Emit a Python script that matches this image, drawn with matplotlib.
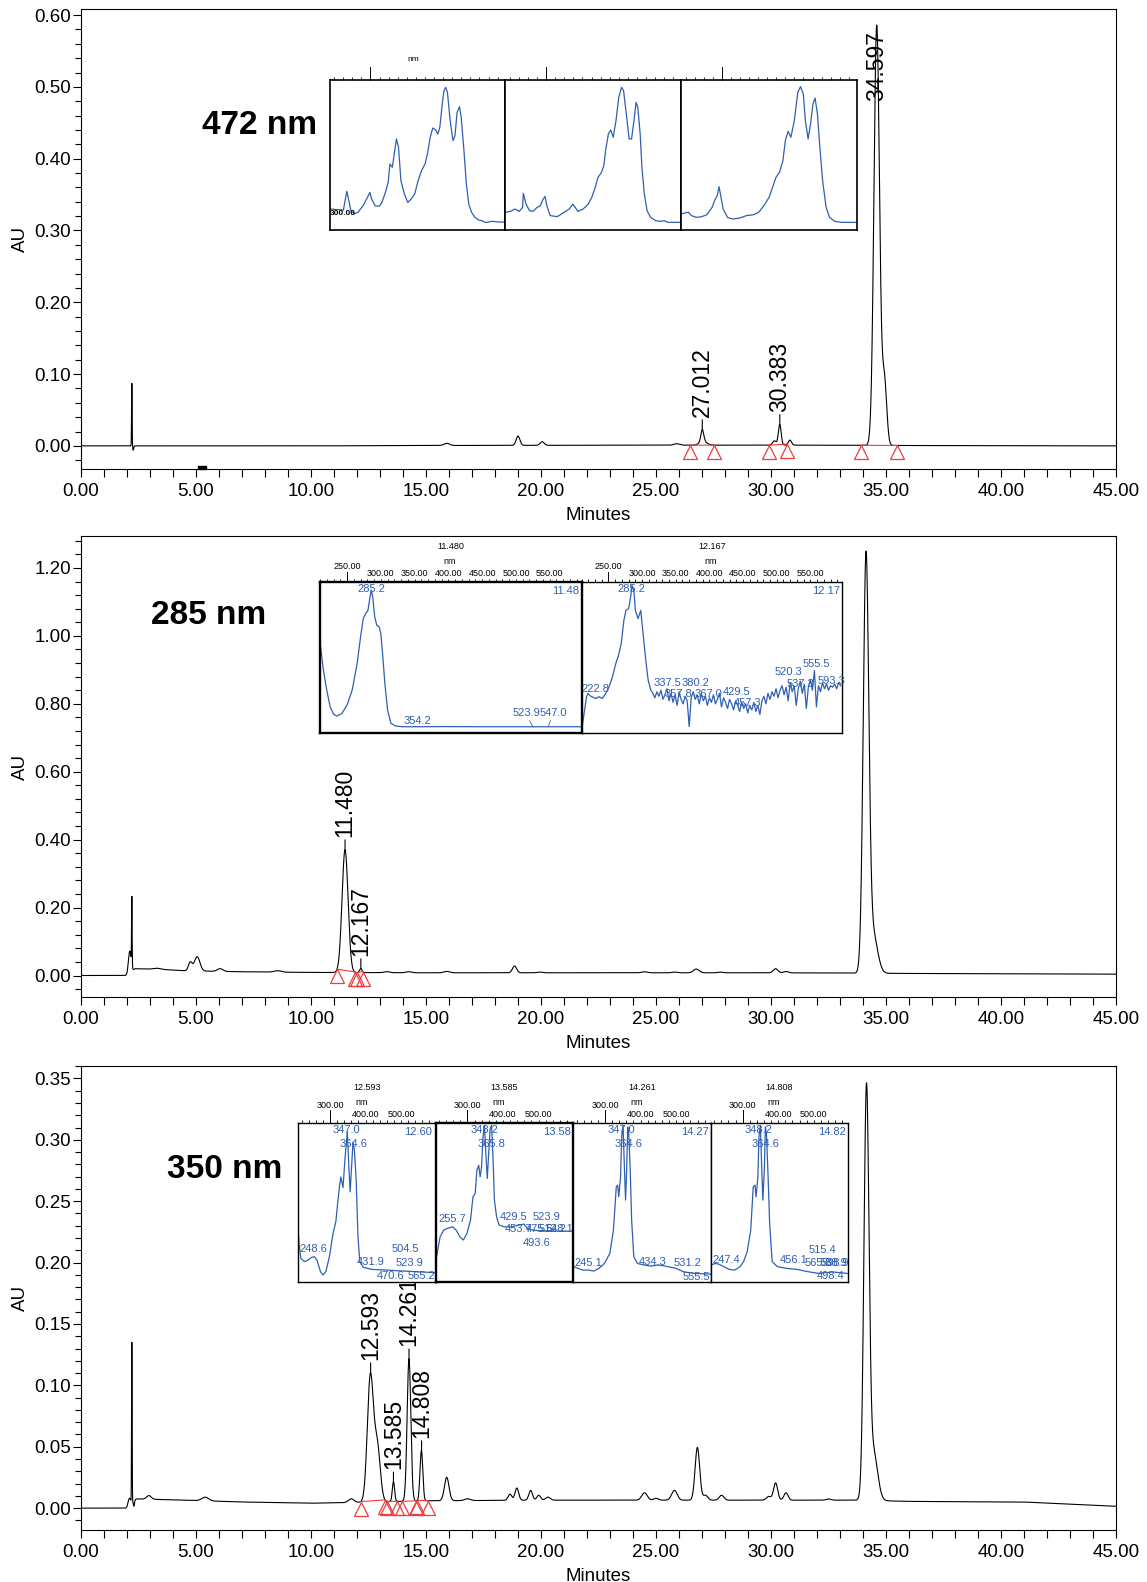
import numpy as np
import matplotlib
matplotlib.use('Agg')
import matplotlib.pyplot as plt
from matplotlib.ticker import MultipleLocator, FuncFormatter
from matplotlib.transforms import offset_copy, blended_transform_factory
from matplotlib.patches import Rectangle

plt.rcParams['font.family'] = ['Liberation Sans', 'DejaVu Sans']

W, H = 1147, 1582
BLUE = '#2f5fb3'
RED = '#ee3b3b'

# ---------------- chromatogram data ----------------
# 472 nm
p1_base_t = [0, 2.15, 2.5, 10, 15, 25, 33, 36, 45]
p1_base_y = [0.0, 0.0, 0.0, 0.0, 0.0005, 0.001, 0.001, 0.0005, 0.0]
p1_rt = [2.21, 2.27, 15.9, 19.0, 20.05, 25.9, 27.05, 27.01, 30.15, 30.38, 30.82, 34.597, 34.93]
p1_h = [0.087, -0.006, 0.003, 0.013, 0.005, 0.002, 0.006, 0.016, 0.006, 0.029, 0.007, 0.585, 0.09]
p1_w = [0.012, 0.02, 0.12, 0.08, 0.09, 0.12, 0.15, 0.06, 0.08, 0.06, 0.07, 0.12, 0.10]
p1_labels = ['27.012', '30.383', '34.597']
p1_label_rt = [27.012, 30.383, 34.597]
p1_integration = [(26.49, 27.53), (29.90, 30.70), (33.90, 35.46)]
p1_event = (5.1, 5.45)

# 285 nm
p2_base_t = [0, 2.0, 2.35, 3.5, 4.5, 7, 10, 15, 20, 30, 33.8, 36, 45]
p2_base_y = [0, 0, 0.02, 0.018, 0.014, 0.011, 0.009, 0.008, 0.008, 0.008, 0.007, 0.006, 0.004]
p2_rt = [2.12, 2.21, 3.3, 4.75, 5.05, 6.05, 8.55, 11.48, 12.167, 13.3, 14.25, 15.9, 18.85,
         19.95, 24.5, 25.8, 26.75, 27.8, 30.2, 30.65, 34.13, 34.42]
p2_h = [0.065, 0.2, 0.003, 0.025, 0.042, 0.008, 0.004, 0.362, 0.012, 0.003, 0.003, 0.004, 0.02,
        0.002, 0.003, 0.002, 0.011, 0.002, 0.012, 0.004, 1.2, 0.12]
p2_w = [0.06, 0.012, 0.15, 0.08, 0.12, 0.12, 0.15, 0.13, 0.05, 0.12, 0.12, 0.12, 0.09,
        0.1, 0.12, 0.1, 0.12, 0.1, 0.1, 0.1, 0.12, 0.2]
p2_labels = ['11.480', '12.167']
p2_label_rt = [11.480, 12.167]
p2_integration = [(11.13, 11.90), (11.98, 12.25)]

# 350 nm
p3_base_t = [0, 2.0, 2.4, 4, 7, 10, 11.5, 15, 20, 30, 33.8, 36, 41, 45]
p3_base_y = [0, 0, 0.0075, 0.0068, 0.005, 0.004, 0.0045, 0.006, 0.0065, 0.0065, 0.0065, 0.0055, 0.005, 0.0015]
p3_rt = [2.1, 2.21, 2.3, 2.95, 5.4, 11.75, 12.58, 12.88, 13.585, 14.26, 14.80, 15.9, 16.8, 18.65,
         18.95, 19.55, 19.9, 20.3, 24.5, 25.0, 25.8, 26.8, 27.15, 27.85, 29.9, 30.2, 30.65, 32.5,
         34.15, 34.45]
p3_h = [0.006, 0.13, -0.004, 0.003, 0.003, 0.003, 0.102, 0.045, 0.016, 0.116, 0.041, 0.019, 0.0015,
        0.005, 0.01, 0.008, 0.004, 0.0025, 0.006, 0.0015, 0.008, 0.043, 0.004, 0.004, 0.003, 0.014,
        0.006, 0.001, 0.33, 0.04]
p3_w = [0.06, 0.012, 0.02, 0.1, 0.15, 0.12, 0.13, 0.13, 0.05, 0.08, 0.06, 0.1, 0.12, 0.08,
        0.08, 0.08, 0.08, 0.1, 0.12, 0.1, 0.12, 0.1, 0.1, 0.1, 0.1, 0.09, 0.09, 0.1, 0.11, 0.18]
p3_labels = ['12.593', '13.585', '14.261', '14.808']
p3_label_rt = [12.593, 13.585, 14.261, 14.808]
p3_integration = [(12.16, 13.22), (13.29, 13.75), (13.95, 14.55), (14.62, 15.10)]

# ---------------- inset spectra (nm, relative absorbance) ----------------
# 472 nm panel
s1a_nm = [211.5, 226.7, 240.4, 247.9, 257.0, 264.6, 272.2, 283.6, 293.5, 298.8, 302.6, 310.2, 319.3,
          325.3, 332.9, 339.0, 342.8, 348.1, 351.9, 357.2, 361.8, 367.1, 374.7, 382.2, 389.8, 397.4,
          405.0, 412.6, 420.2, 425.5, 431.6, 437.2, 443.7, 448.3, 452.8, 458.1, 461.9, 465.7, 469.5,
          475.6, 481.7, 486.2, 490.8, 496.1, 499.9, 505.9, 511.2, 516.6, 522.6, 530.2, 537.8, 545.4,
          553.0, 568.2, 583.3, 594.7]
s1a_ab = [0.140, 0.136, 0.133, 0.258, 0.129, 0.107, 0.118, 0.162, 0.218, 0.251, 0.207, 0.162, 0.158,
          0.184, 0.251, 0.318, 0.440, 0.418, 0.496, 0.607, 0.551, 0.329, 0.240, 0.184, 0.207, 0.240,
          0.329, 0.396, 0.440, 0.507, 0.618, 0.680, 0.667, 0.640, 0.684, 0.840, 0.929, 0.951, 0.918,
          0.729, 0.596, 0.629, 0.784, 0.822, 0.751, 0.529, 0.307, 0.173, 0.118, 0.084, 0.067, 0.062,
          0.050, 0.058, 0.053, 0.053]
s1b_nm = [210.0, 221.4, 231.3, 240.5, 248.1, 249.6, 255.7, 263.3, 270.9, 280.1, 287.2, 292.3, 297.6,
          301.4, 309.0, 324.3, 339.5, 350.9, 358.6, 363.9, 370.0, 381.4, 392.8, 400.5, 408.1, 414.2,
          421.8, 427.1, 430.9, 437.0, 442.3, 447.7, 453.8, 459.9, 466.0, 470.5, 476.6, 482.7, 488.1,
          493.4, 498.0, 501.8, 507.1, 510.9, 516.2, 522.3, 530.0, 541.4, 552.8, 560.4, 568.0, 583.3,
          595.5]
s1b_ab = [0.118, 0.124, 0.140, 0.124, 0.151, 0.244, 0.173, 0.129, 0.124, 0.151, 0.162, 0.200, 0.224,
          0.162, 0.096, 0.089, 0.118, 0.140, 0.173, 0.151, 0.124, 0.140, 0.173, 0.218, 0.284, 0.351,
          0.384, 0.429, 0.529, 0.640, 0.667, 0.618, 0.729, 0.884, 0.951, 0.929, 0.773, 0.607, 0.607,
          0.729, 0.851, 0.818, 0.640, 0.418, 0.240, 0.129, 0.084, 0.062, 0.058, 0.062, 0.051, 0.051,
          0.051]
s1c_nm = [211.5, 221.4, 226.8, 232.9, 244.3, 255.7, 267.1, 278.6, 284.7, 290.0, 293.8, 297.6, 302.9,
          312.8, 324.3, 339.5, 354.7, 370.0, 381.4, 392.8, 404.2, 411.9, 419.5, 427.1, 434.7, 440.1,
          446.2, 452.3, 459.9, 467.5, 473.6, 479.7, 484.2, 490.3, 495.7, 501.0, 505.6, 510.9, 516.2,
          522.3, 530.0, 537.6, 549.0, 564.2, 597.0]
s1c_ab = [0.107, 0.116, 0.118, 0.096, 0.084, 0.089, 0.102, 0.151, 0.200, 0.229, 0.289, 0.229, 0.140,
          0.084, 0.073, 0.080, 0.096, 0.102, 0.118, 0.162, 0.218, 0.284, 0.351, 0.384, 0.462, 0.596,
          0.658, 0.618, 0.729, 0.918, 0.956, 0.907, 0.729, 0.607, 0.707, 0.840, 0.880, 0.773, 0.551,
          0.329, 0.151, 0.084, 0.058, 0.051, 0.051]

# 285 nm panel
s2a_nm = [211, 215, 220, 225, 230, 235, 242.5, 250, 257.6, 265, 270, 274, 277.6, 281, 284, 286, 288,
          291, 294, 297.6, 300, 302.6, 306, 310, 315, 322.6, 332.6, 355, 395, 445, 495, 545, 595.5]
s2a_ab = [0.571, 0.418, 0.286, 0.176, 0.127, 0.114, 0.132, 0.187, 0.286, 0.462, 0.637, 0.758, 0.791,
          0.813, 0.901, 0.945, 0.901, 0.769, 0.714, 0.703, 0.659, 0.527, 0.330, 0.154, 0.066, 0.048,
          0.044, 0.044, 0.045, 0.044, 0.044, 0.044, 0.044]
s2b_nm = [211, 217.5, 219.5, 223.6, 231, 236, 241, 246, 251, 256, 261, 265, 269, 273, 276, 280, 283,
          285, 288, 290, 294, 298, 301, 305, 309, 313,
          316, 319, 322, 325, 328, 331, 334, 337, 340, 343,
          346, 349, 352, 355, 358, 361, 364, 367, 370, 373,
          376, 379, 382, 385, 388, 391, 394, 397, 400, 403,
          406, 409, 412, 415, 418, 421, 424, 427, 430, 433,
          436, 439, 442, 445, 448, 451, 454, 457, 460, 463,
          466, 469, 472, 475, 478, 481, 484, 487, 490, 493,
          496, 499, 502, 505, 508, 511, 514, 517, 520, 523,
          526, 529, 532, 535, 538, 541, 544, 547, 550, 553,
          556, 559, 562, 565, 568, 571, 574, 577, 580, 583,
          586, 589, 592, 595]
s2b_ab = [0.044, 0.242, 0.264, 0.246, 0.231, 0.242, 0.231, 0.264, 0.308, 0.374, 0.462, 0.516, 0.593,
          0.747, 0.813, 0.824, 0.901, 0.978, 0.934, 0.813, 0.758, 0.813, 0.681, 0.505, 0.352, 0.286,
          0.265, 0.235, 0.275, 0.245, 0.285, 0.225, 0.255, 0.295, 0.215, 0.265,
          0.205, 0.255, 0.185, 0.275, 0.225, 0.195, 0.245, 0.215, 0.045, 0.235,
          0.275, 0.225, 0.255, 0.195, 0.265, 0.215, 0.245, 0.185, 0.235, 0.205,
          0.255, 0.195, 0.225, 0.265, 0.175, 0.235, 0.205, 0.165, 0.225, 0.195,
          0.155, 0.215, 0.185, 0.145, 0.205, 0.165, 0.195, 0.135, 0.185, 0.155,
          0.205, 0.145, 0.185, 0.125, 0.215, 0.245, 0.195, 0.265, 0.225, 0.275,
          0.245, 0.295, 0.235, 0.285, 0.315, 0.255, 0.305, 0.215, 0.335, 0.275,
          0.315, 0.185, 0.295, 0.345, 0.265, 0.325, 0.165, 0.305, 0.355, 0.285,
          0.415, 0.175, 0.315, 0.275, 0.335, 0.295, 0.325, 0.285, 0.315, 0.305,
          0.325, 0.295, 0.335, 0.315]

# 350 nm panel
s3a_nm = [210, 213, 218, 228.1, 238.1, 248.2, 256.2, 263.3, 273.3, 280.4, 288.4, 298.4, 308.5, 316.5,
          321.6, 326.6, 330.6, 336.6, 342.7, 348.7, 353.7, 356.7, 360.8, 364.8, 368.8, 373.8, 378.8,
          383.9, 393.9, 419.0, 459.2, 489.4, 539.6, 594.9]
s3a_ab = [0.347, 0.243, 0.149, 0.128, 0.138, 0.155, 0.159, 0.138, 0.065, 0.044, 0.065, 0.159, 0.305,
          0.379, 0.494, 0.598, 0.661, 0.594, 0.787, 0.944, 0.703, 0.567, 0.724, 0.881, 0.828, 0.640,
          0.285, 0.128, 0.092, 0.079, 0.075, 0.071, 0.065, 0.059]
s3b_nm = [213, 223.1, 233.1, 243.2, 258.2, 268.3, 278.3, 288.4, 298.4, 308.5, 315.5, 321.6, 326.6,
          331.6, 335.6, 339.6, 343.7, 347.7, 351.7, 355.7, 359.7, 363.8, 367.8, 371.8, 375.8, 381.9,
          388.9, 404.0, 424.1, 444.2, 459.2, 469.3, 484.4, 504.5, 524.6, 554.7, 594.9]
s3b_ab = [0.159, 0.285, 0.326, 0.337, 0.347, 0.326, 0.285, 0.264, 0.305, 0.389, 0.536, 0.556, 0.703,
          0.734, 0.661, 0.724, 0.912, 0.985, 0.808, 0.651, 0.808, 0.964, 0.985, 0.787, 0.515, 0.410,
          0.358, 0.347, 0.347, 0.358, 0.364, 0.337, 0.326, 0.322, 0.322, 0.320, 0.320]
s3c_nm = [213, 223.1, 238.1, 253.2, 268.3, 283.4, 298.4, 313.5, 323.6, 328.6, 331.6, 335.6, 338.6,
          343.7, 346.7, 350.7, 354.7, 357.7, 360.8, 363.8, 366.8, 370.8, 374.8, 380.9, 390.9, 409.0,
          429.1, 449.2, 469.3, 499.4, 519.5, 549.7, 595.9]
s3c_ab = [0.096, 0.086, 0.075, 0.075, 0.069, 0.086, 0.117, 0.180, 0.326, 0.494, 0.598, 0.609, 0.536,
          0.661, 0.912, 0.985, 0.703, 0.515, 0.703, 0.975, 0.933, 0.703, 0.389, 0.159, 0.117, 0.107,
          0.100, 0.107, 0.100, 0.086, 0.065, 0.054, 0.050]
s3d_nm = [212, 222.1, 232.1, 247.2, 262.3, 277.3, 292.4, 302.5, 312.5, 322.6, 329.6, 334.6, 337.6,
          342.7, 345.7, 349.7, 353.7, 356.7, 360.8, 363.8, 366.8, 370.8, 375.8, 382.9, 397.9, 423.1,
          453.2, 483.4, 513.5, 553.7, 593.9]
s3d_ab = [0.107, 0.117, 0.113, 0.096, 0.079, 0.075, 0.096, 0.128, 0.190, 0.326, 0.598, 0.609, 0.536,
          0.661, 0.912, 0.985, 0.703, 0.515, 0.703, 0.975, 0.933, 0.703, 0.368, 0.128, 0.096, 0.086,
          0.079, 0.065, 0.054, 0.063, 0.054]

# spectrum annotations: (text, nm, rel, ha)
lab2a = [('285.2', 285.3, 0.952, 'center'), ('11.48', 594, 0.943, 'right'), ('354.2', 354.3, 0.084, 'center'),
         ('523.9', 514.9, 0.137, 'center'), ('547.0', 555.4, 0.137, 'center')]
lab2b = [('222.8', 231.1, 0.291, 'center'), ('285.2', 284.7, 0.952, 'center'), ('12.17', 594, 0.943, 'right'),
         ('337.5', 338.2, 0.335, 'center'), ('380.2', 379.7, 0.335, 'center'), ('357.8', 354, 0.258, 'center'),
         ('367.0', 398.6, 0.258, 'center'), ('429.5', 440, 0.275, 'center'), ('457.3', 456, 0.199, 'center'),
         ('520.3', 517.4, 0.408, 'center'), ('555.5', 559.6, 0.456, 'center'), ('537.3', 534.6, 0.326, 'center'),
         ('593.3', 582, 0.348, 'center')]
lab3a = [('347.0', 346.2, 0.954, 'center'), ('364.6', 366.5, 0.866, 'center'), ('12.60', 587, 0.943, 'right'),
         ('248.6', 252, 0.205, 'center'), ('431.9', 415, 0.127, 'center'), ('504.5', 511, 0.207, 'center'),
         ('523.9', 524, 0.121, 'center'), ('470.6', 471.5, 0.038, 'center'), ('565.2', 557, 0.038, 'center')]
lab3b = [('348.2', 347.4, 0.959, 'center'), ('365.8', 366.8, 0.866, 'center'), ('13.58', 591, 0.943, 'right'),
         ('255.7', 256.5, 0.394, 'center'), ('429.5', 428.7, 0.41, 'center'), ('523.9', 523.2, 0.41, 'center'),
         ('453.7', 445, 0.331, 'center'), ('475.6', 504, 0.331, 'center'), ('512.2', 540, 0.331, 'center'),
         ('548.1', 558, 0.331, 'center'), ('493.6', 494, 0.247, 'center')]
lab3c = [('347.0', 346.2, 0.959, 'center'), ('364.6', 364.8, 0.866, 'center'), ('14.27', 591.6, 0.943, 'right'),
         ('245.1', 252, 0.121, 'center'), ('434.3', 435, 0.127, 'center'), ('531.2', 530.9, 0.121, 'center'),
         ('555.5', 556, 0.033, 'center')]
lab3d = [('348.2', 344.8, 0.959, 'center'), ('364.6', 364.8, 0.866, 'center'), ('14.82', 591, 0.943, 'right'),
         ('247.4', 253, 0.138, 'center'), ('456.1', 442.5, 0.138, 'center'), ('515.4', 525.5, 0.2, 'center'),
         ('565.3', 512, 0.121, 'center'), ('588.9', 556, 0.121, 'center'), ('598.9', 560, 0.121, 'center'),
         ('498.4', 548, 0.038, 'center')]

titles2 = ['11.480', '12.167']
titles3 = ['12.593', '13.585', '14.261', '14.808']
NM_RANGE = (210, 597)

# ---------------- helpers ----------------
fig = plt.figure(figsize=(W / 100, H / 100), dpi=100)


def rect(l, t, r, b):
    return [l / W, 1 - b / H, (r - l) / W, (b - t) / H]


t = np.linspace(0, 45, 22501)


def trace(base_t, base_y, rts, hs, ws):
    y = np.interp(t, base_t, base_y)
    for rt, h, s in zip(rts, hs, ws):
        y = y + h * np.exp(-0.5 * ((t - rt) / s) ** 2)
    return y


def fmt(v, p):
    if abs(v) < 1e-9:
        v = 0.0
    return f'{v:.2f}'


def setup_main(ax, ylim, ymaj, ymin):
    ax.set_xlim(0, 45)
    ax.set_ylim(*ylim)
    ax.xaxis.set_major_locator(MultipleLocator(5))
    ax.xaxis.set_minor_locator(MultipleLocator(1))
    ax.yaxis.set_major_locator(MultipleLocator(ymaj))
    ax.yaxis.set_minor_locator(MultipleLocator(ymin))
    ax.xaxis.set_major_formatter(FuncFormatter(fmt))
    ax.yaxis.set_major_formatter(FuncFormatter(fmt))
    ax.tick_params(axis='both', which='major', direction='out', length=6, width=0.8, labelsize=13.5)
    ax.tick_params(axis='y', which='minor', direction='out', length=4, width=0.8)
    ax.tick_params(axis='x', which='minor', direction='out', length=5.5, width=0.8)
    ax.tick_params(axis='x', which='major', pad=4)
    ax.tick_params(axis='y', which='major', pad=1)
    ax.set_xlabel('Minutes', fontsize=13.5, labelpad=5)
    ax.set_ylabel('AU', fontsize=13.5, labelpad=4)
    for s in ax.spines.values():
        s.set_linewidth(0.8)


def label_peaks(ax, y, rts, names):
    fig.canvas.draw()
    top_px = ax.transAxes.transform((0, 1))[1]
    for rt, name in zip(rts, names):
        m = (t > rt - 0.04) & (t < rt + 0.04)
        yp = y[m].max()
        ppx = ax.transData.transform((rt, yp))[1]
        if ppx + 14 + 80 > top_px:
            yc = ax.transData.inverted().transform((0, top_px - 57))[1]
            ax.text(rt, yc, name, rotation=90, ha='center', va='center', fontsize=16.5)
        else:
            ax.annotate(name, xy=(rt, yp), xytext=(0, 9), textcoords='offset points',
                        rotation=90, ha='center', va='bottom', fontsize=16.5,
                        arrowprops=dict(arrowstyle='-', lw=0.8, color='k', shrinkA=0, shrinkB=0))


def integration_marks(ax, y, pairs):
    tr = offset_copy(ax.transData, fig=fig, y=-5, units='points')
    for a, b in pairs:
        ya, yb = np.interp([a, b], t, y)
        ax.plot([a, b], [ya, yb], color=RED, lw=0.8)
        ax.plot([a, b], [ya, yb], ls='none', marker='^', ms=10, mfc='none', mec=RED, mew=0.9,
                transform=tr, clip_on=False)


def make_inset(l, t_, r, b, nm, ab, frame_lw, minor, major, long_tick, long_frac):
    ax = fig.add_axes(rect(l, t_, r, b))
    ax.set_facecolor('white')
    ax.plot(nm, ab, color=BLUE, lw=0.9)
    ax.set_xlim(*NM_RANGE)
    ax.set_ylim(0, 1)
    ax.set_yticks([])
    ax.xaxis.set_ticks_position('top')
    ax.set_xticks(major)
    ax.set_xticklabels([f'{v:.2f}' for v in major])
    ax.xaxis.set_minor_locator(MultipleLocator(minor))
    ax.tick_params(axis='x', which='both', direction='out', length=2.2, width=0.6,
                   labelsize=6.5, pad=0.5, top=True, bottom=False, labeltop=True, labelbottom=False)
    for s in ax.spines.values():
        s.set_linewidth(frame_lw)
    tr = blended_transform_factory(ax.transData, ax.transAxes)
    ax.plot([long_tick, long_tick], [1, 1 + long_frac], transform=tr, color='k', lw=0.7, clip_on=False)
    return ax, tr


def add_labels(ax, labs, fs=8):
    for txt, x, yv, ha in labs:
        ax.text(x, yv, txt, color=BLUE, fontsize=fs, ha=ha, va='center', clip_on=False)


# ---------------- panel 1 : 472 nm ----------------
ax1 = fig.add_axes(rect(81, 9, 1116, 469))
y1 = trace(p1_base_t, p1_base_y, p1_rt, p1_h, p1_w)
ax1.plot(t, y1, color='black', lw=0.8)
setup_main(ax1, (-0.0322, 0.6085), 0.1, 0.02)
ax1.add_patch(Rectangle((p1_event[0], -0.0322), p1_event[1] - p1_event[0], 0.0042, color='black',
                        clip_on=False))
integration_marks(ax1, y1, p1_integration)
label_peaks(ax1, y1, p1_label_rt, p1_labels)
fig.text(260 / W, 1 - 126 / H, '472 nm', fontsize=24, fontweight='bold', ha='center', va='center')

p1_boxes = [(329.6, 505.3), (505.3, 681.0), (681.0, 856.5)]
for i, ((l, r), nm, ab) in enumerate(zip(p1_boxes, [s1a_nm, s1b_nm, s1c_nm], [s1a_ab, s1b_ab, s1c_ab])):
    ax, tr = make_inset(l, 80, r, 230, nm, ab, 1.2, 20, [], 300, 0.085)
    if i == 0:
        ax.text(0.475, 1.138, 'nm', transform=ax.transAxes, ha='center', va='center', fontsize=6)
        ax.text(0.0, 0.111, '300.00', transform=ax.transAxes, ha='left', va='center', fontsize=6,
                fontweight='bold')

# ---------------- panel 2 : 285 nm ----------------
ax2 = fig.add_axes(rect(81, 536, 1116, 997))
y2 = trace(p2_base_t, p2_base_y, p2_rt, p2_h, p2_w)
ax2.plot(t, y2, color='black', lw=0.8)
setup_main(ax2, (-0.0633, 1.294), 0.2, 0.04)
integration_marks(ax2, y2, p2_integration)
label_peaks(ax2, y2, p2_label_rt, p2_labels)
fig.text(209 / W, 1 - 615 / H, '285 nm', fontsize=24, fontweight='bold', ha='center', va='center')

p2_boxes = [(320, 581.5), (581.5, 842)]
p2_frames = [1.7, 1.0]
for (l, r), nm, ab, fl, labs, ttl in zip(p2_boxes, [s2a_nm, s2b_nm], [s2a_ab, s2b_ab], p2_frames,
                                        [lab2a, lab2b], titles2):
    ax, tr = make_inset(l, 582, r, 733.4, nm, ab, fl, 10, [300, 350, 400, 450, 500, 550], 250, 0.066)
    ax.text(250, 1.075, '250.00', transform=tr, ha='center', va='bottom', fontsize=6.5)
    ax.text(0.5, 1.233, ttl, transform=ax.transAxes, ha='center', va='center', fontsize=6.5)
    ax.text(0.497, 1.134, 'nm', transform=ax.transAxes, ha='center', va='center', fontsize=6.5)
    add_labels(ax, labs)
    if ttl == '11.480':
        ax.plot([520.0, 525.1], [0.084, 0.044], color=BLUE, lw=0.6)
        ax.plot([551.2, 547.6], [0.084, 0.044], color=BLUE, lw=0.6)

# ---------------- panel 3 : 350 nm ----------------
ax3 = fig.add_axes(rect(81, 1066, 1116, 1530))
y3 = trace(p3_base_t, p3_base_y, p3_rt, p3_h, p3_w)
ax3.plot(t, y3, color='black', lw=0.8)
setup_main(ax3, (-0.0178, 0.3601), 0.05, 0.01)
integration_marks(ax3, y3, p3_integration)
label_peaks(ax3, y3, p3_label_rt, p3_labels)
fig.text(225 / W, 1 - 1170 / H, '350 nm', fontsize=24, fontweight='bold', ha='center', va='center')

p3_edges = [298, 435.5, 573, 710.7, 848.3]
p3_frames = [1.0, 1.7, 1.0, 1.0]
for i, (nm, ab, fl, labs, ttl) in enumerate(zip([s3a_nm, s3b_nm, s3c_nm, s3d_nm],
                                                [s3a_ab, s3b_ab, s3c_ab, s3d_ab], p3_frames,
                                                [lab3a, lab3b, lab3c, lab3d], titles3)):
    ax, tr = make_inset(p3_edges[i], 1123, p3_edges[i + 1], 1282, nm, ab, fl, 20, [400, 500], 300, 0.08)
    ax.text(300, 1.111, '300.00', transform=tr, ha='center', va='center', fontsize=6.5)
    ax.text(0.5, 1.222, ttl, transform=ax.transAxes, ha='center', va='center', fontsize=6.5)
    ax.text(0.461, 1.13, 'nm', transform=ax.transAxes, ha='center', va='center', fontsize=6.5)
    add_labels(ax, labs)

fig.savefig('out.png', dpi=100)
